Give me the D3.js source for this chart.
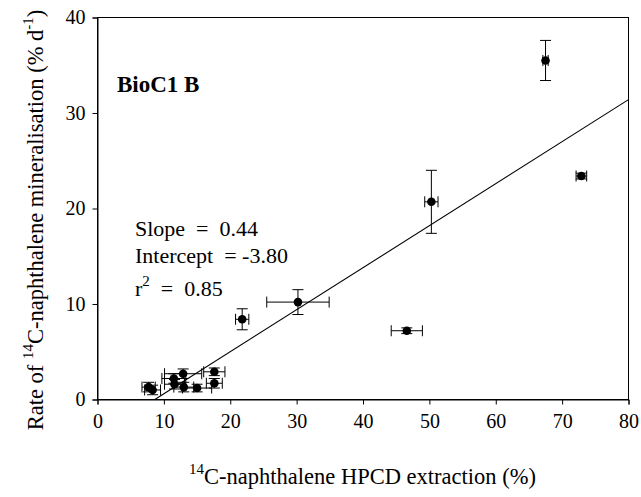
<!DOCTYPE html>
<html>
<head>
<meta charset="utf-8">
<script src="https://cdn.jsdelivr.net/npm/d3@7"></script>
<style>
  html, body { margin: 0; padding: 0; background: #fff; }
  svg { display: block; font-family: "Liberation Serif", "Times New Roman", serif; }
</style>
</head>
<body>
<svg id="chart" width="641" height="497"></svg>
<script>
// HPCD extraction (%) and mineralisation rate (% d-1), with their errors
const extraction = [67.5, 72.9, 50.3, 46.6, 30.2, 21.8, 17.6, 17.6, 12.9, 11.5, 11.6, 13.0, 15.0, 7.7, 8.3];
const rate       = [35.5, 23.4, 20.7, 7.2, 10.2, 8.4, 2.9, 1.7, 2.7, 2.2, 1.6, 1.3, 1.2, 1.3, 1.0];
const extractionErr = [0.4, 0.8, 1.0, 2.35, 4.7, 1.0, 1.6, 1.2, 2.8, 1.8, 1.5, 1.5, 2.2, 1.0, 1.2];
const rateErr       = [2.1, 0.3, 3.3, 0.3, 1.3, 1.1, 0.4, 0.5, 0.5, 0.5, 0.5, 0.5, 0.4, 0.5, 0.5];

const xTicks = [0, 10, 20, 30, 40, 50, 60, 70, 80];
const yTicks = [0, 10, 20, 30, 40];

const slope = 0.44;
const intercept = -3.80;
const rSquared = 0.85;

const svg = d3.select("#chart");
const margin = { top: 17, right: 13, bottom: 98, left: 97 };
const W = 641, H = 497;
const iw = W - margin.left - margin.right;
const ih = H - margin.top - margin.bottom;

const x = d3.scaleLinear().domain([0, 80]).range([0, iw]);
const y = d3.scaleLinear().domain([0, 40]).range([ih, 0]);

const g = svg.append("g").attr("transform", `translate(${margin.left + 0.5},${margin.top + 0.5})`);

// frame
g.append("rect").attr("x", 0).attr("y", 0).attr("width", iw).attr("height", ih)
  .attr("fill", "none").attr("stroke", "#000").attr("stroke-width", 1);

// axes
const xAxis = g.append("g").attr("transform", `translate(0,${ih})`)
  .call(d3.axisBottom(x).tickValues(xTicks).tickSize(5).tickPadding(9).tickFormat(d3.format("d")));
const yAxis = g.append("g")
  .call(d3.axisLeft(y).tickValues(yTicks).tickSize(5).tickPadding(7).tickFormat(d3.format("d")));
[xAxis, yAxis].forEach(a => {
  a.select(".domain").attr("stroke", "#000");
  a.selectAll(".tick line").attr("stroke", "#000");
  a.selectAll(".tick text").attr("fill", "#000").style("font-size", "20px")
    .style("font-family", "'Liberation Serif', serif");
});

// regression line, from its x-intercept to the right edge
const x0 = -intercept / slope;
g.append("line")
  .attr("x1", x(x0)).attr("y1", y(0))
  .attr("x2", x(80)).attr("y2", y(slope * 80 + intercept))
  .attr("stroke", "#000").attr("stroke-width", 1.1);

const pts = extraction.map((v, i) => ({ x: v, y: rate[i], ex: extractionErr[i], ey: rateErr[i] }));
const cap = 5.5;
const eb = g.append("g").attr("stroke", "#000").attr("stroke-width", 1);
pts.forEach(p => {
  // vertical error
  eb.append("line").attr("x1", x(p.x)).attr("x2", x(p.x)).attr("y1", y(p.y - p.ey)).attr("y2", y(p.y + p.ey));
  eb.append("line").attr("x1", x(p.x) - cap).attr("x2", x(p.x) + cap).attr("y1", y(p.y - p.ey)).attr("y2", y(p.y - p.ey));
  eb.append("line").attr("x1", x(p.x) - cap).attr("x2", x(p.x) + cap).attr("y1", y(p.y + p.ey)).attr("y2", y(p.y + p.ey));
  // horizontal error
  eb.append("line").attr("y1", y(p.y)).attr("y2", y(p.y)).attr("x1", x(p.x - p.ex)).attr("x2", x(p.x + p.ex));
  eb.append("line").attr("y1", y(p.y) - cap).attr("y2", y(p.y) + cap).attr("x1", x(p.x - p.ex)).attr("x2", x(p.x - p.ex));
  eb.append("line").attr("y1", y(p.y) - cap).attr("y2", y(p.y) + cap).attr("x1", x(p.x + p.ex)).attr("x2", x(p.x + p.ex));
});

g.selectAll("circle.pt").data(pts).join("circle")
  .attr("class", "pt")
  .attr("cx", d => x(d.x)).attr("cy", d => y(d.y)).attr("r", 4.3)
  .attr("fill", "#000");

// panel title
svg.append("text").attr("x", 117).attr("y", 92)
  .style("font-size", "23px").style("font-weight", "bold").text("BioC1 B");

// regression statistics
const stats = svg.append("g").style("font-size", "22px");
stats.append("text").attr("x", 135).attr("y", 236).attr("xml:space", "preserve")
  .text(`Slope  =  ${slope.toFixed(2)}`);
stats.append("text").attr("x", 135).attr("y", 263).attr("xml:space", "preserve")
  .text(`Intercept  = ${intercept.toFixed(2)}`);
const r2 = stats.append("text").attr("x", 135).attr("y", 296).attr("xml:space", "preserve");
r2.append("tspan").text("r");
r2.append("tspan").attr("dy", -10).style("font-size", "15px").text("2");
r2.append("tspan").attr("dy", 10).text("  =  " + rSquared.toFixed(2));

// x-axis title
const xt = svg.append("text").attr("x", margin.left + iw / 2).attr("y", 484)
  .attr("text-anchor", "middle").style("font-size", "22.5px");
xt.append("tspan").attr("dy", -10).style("font-size", "15px").text("14");
xt.append("tspan").attr("dy", 10).text("C-naphthalene HPCD extraction (%)");

// y-axis title
const yt = svg.append("text")
  .attr("transform", "translate(43,220) rotate(-90)")
  .attr("text-anchor", "middle").style("font-size", "22.5px");
yt.append("tspan").text("Rate of ");
yt.append("tspan").attr("dy", -10).style("font-size", "15px").text("14");
yt.append("tspan").attr("dy", 10).text("C-naphthalene mineralisation (% d");
yt.append("tspan").attr("dy", -10).style("font-size", "15px").text("-1");
yt.append("tspan").attr("dy", 10).text(")");
</script>
</body>
</html>
